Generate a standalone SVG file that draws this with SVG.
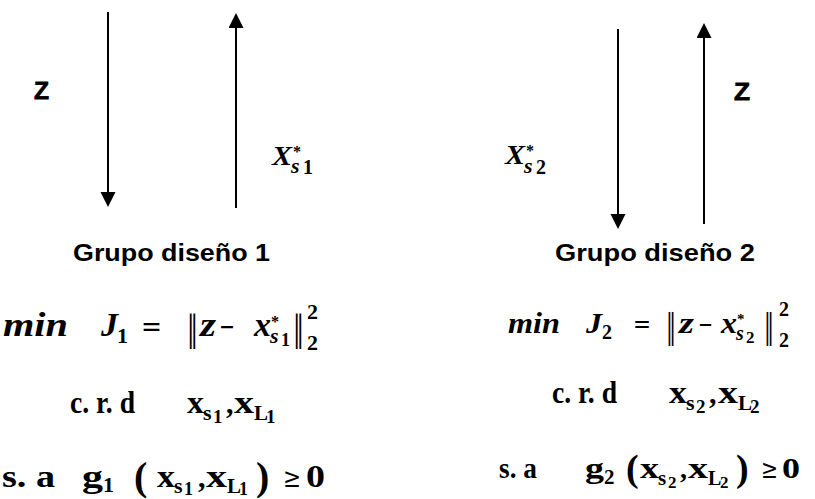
<svg xmlns="http://www.w3.org/2000/svg" width="815" height="499" viewBox="0 0 815 499">
<style>
.sans{font-family:"Liberation Sans",Arial,sans-serif;font-weight:bold;fill:#000}
.zl{stroke:#000;stroke-width:0.8}
.m{font-family:"Liberation Serif","DejaVu Serif",serif;font-weight:bold;fill:#000}
.i{font-style:italic}
.sym{font-family:"DejaVu Serif","Liberation Serif",serif;font-weight:normal;fill:#000}
.arr{stroke:#000;stroke-width:2;fill:none;marker-end:url(#ah)}
</style>
<defs>
<marker id="ah" markerUnits="userSpaceOnUse" markerWidth="16" markerHeight="16" viewBox="0 0 16 16" refX="5" refY="7.5" orient="auto">
<path d="M0,0 L15,7.5 L0,15 Z" fill="#000"/>
</marker>
</defs>
<rect width="815" height="499" fill="#fff"/>

<g id="connectors">
<line class="arr" x1="108" y1="12" x2="108" y2="197"/>
<line class="arr" x1="236" y1="208" x2="236" y2="23"/>
<line class="arr" x1="618" y1="29" x2="618" y2="219"/>
<line class="arr" x1="704" y1="224" x2="704" y2="33"/>
</g>

<g id="label-z-left"><text class="sans zl" x="34" y="99" font-size="24" textLength="15" lengthAdjust="spacingAndGlyphs">Z</text></g>
<g id="label-z-right"><text class="sans zl" x="734" y="100" font-size="24" textLength="16" lengthAdjust="spacingAndGlyphs">Z</text></g>

<g id="label-xs1">
<text class="m i" x="272" y="165" font-size="28" textLength="20" lengthAdjust="spacingAndGlyphs">X</text>
<text class="m" x="293" y="157" font-size="16">*</text>
<text class="m i" x="291" y="173" font-size="22">s</text>
<text class="m" x="303" y="174" font-size="20">1</text>
</g>
<g id="label-xs2">
<text class="m i" x="505" y="164" font-size="28" textLength="20" lengthAdjust="spacingAndGlyphs">X</text>
<text class="m" x="526" y="156" font-size="16">*</text>
<text class="m i" x="524" y="173" font-size="22">s</text>
<text class="m" x="536" y="174" font-size="20">2</text>
</g>

<g id="grupo1">
<text class="sans" x="73" y="261" font-size="23" textLength="197" lengthAdjust="spacingAndGlyphs">Grupo diseño 1</text>
<!-- row 2 -->
<text class="m i" x="3" y="336" font-size="33" textLength="65" lengthAdjust="spacingAndGlyphs">min</text>
<text class="m i" x="101" y="336" font-size="33" textLength="17" lengthAdjust="spacingAndGlyphs">J</text>
<text class="m" x="117" y="343" font-size="22">1</text>
<text class="sym" x="141" y="336" font-size="28" textLength="21" lengthAdjust="spacingAndGlyphs">=</text>
<text class="sym" x="187" y="341" font-size="36" textLength="11" lengthAdjust="spacingAndGlyphs">‖</text>
<text class="m i" x="200" y="336" font-size="33" textLength="16" lengthAdjust="spacingAndGlyphs">z</text>
<text class="sym" x="219" y="336" font-size="28" textLength="16" lengthAdjust="spacingAndGlyphs">−</text>
<text class="m i" x="254" y="336" font-size="33" textLength="17" lengthAdjust="spacingAndGlyphs">x</text>
<text class="m" x="271" y="327" font-size="16">*</text>
<text class="m i" x="270" y="343" font-size="22">s</text>
<text class="m" x="281" y="346" font-size="18">1</text>
<text class="sym" x="293" y="341" font-size="36" textLength="11" lengthAdjust="spacingAndGlyphs">‖</text>
<text class="m" x="307" y="319" font-size="22">2</text>
<text class="m" x="307" y="350" font-size="22">2</text>
<!-- row 3 -->
<text class="m" x="70" y="413" font-size="32" textLength="65" lengthAdjust="spacingAndGlyphs">c. r. d</text>
<text class="m" x="187" y="413" font-size="32" textLength="17" lengthAdjust="spacingAndGlyphs">x</text>
<text class="m" x="203" y="420" font-size="22">s</text>
<text class="m" x="213" y="423" font-size="19">1</text>
<text class="m" x="226" y="413" font-size="30">,</text>
<text class="m" x="234" y="413" font-size="32" textLength="20" lengthAdjust="spacingAndGlyphs">x</text>
<text class="m" x="254" y="420" font-size="21">L</text>
<text class="m" x="266" y="423" font-size="19">1</text>
<!-- row 4 -->
<text class="m" x="2" y="487" font-size="32" textLength="53" lengthAdjust="spacingAndGlyphs">s. a</text>
<text class="m" x="82" y="487" font-size="32" textLength="21" lengthAdjust="spacingAndGlyphs">g</text>
<text class="m" x="103" y="492" font-size="22">1</text>
<text class="m" x="134" y="490" font-size="40" font-weight="normal">(</text>
<text class="m" x="157" y="487" font-size="32" textLength="18" lengthAdjust="spacingAndGlyphs">x</text>
<text class="m" x="174" y="493" font-size="22">s</text>
<text class="m" x="184" y="495" font-size="18">1</text>
<text class="m" x="198" y="487" font-size="30">,</text>
<text class="m" x="206" y="487" font-size="32" textLength="21" lengthAdjust="spacingAndGlyphs">x</text>
<text class="m" x="227" y="493" font-size="21">L</text>
<text class="m" x="239" y="495" font-size="18">1</text>
<text class="m" x="256" y="490" font-size="40" font-weight="normal">)</text>
<text class="sym" x="283" y="487" font-size="27" textLength="18" lengthAdjust="spacingAndGlyphs">≥</text>
<text class="m" x="306" y="487" font-size="32" textLength="19" lengthAdjust="spacingAndGlyphs">0</text>
</g>

<g id="grupo2">
<text class="sans" x="555" y="261" font-size="23" textLength="200" lengthAdjust="spacingAndGlyphs">Grupo diseño 2</text>
<!-- row 2 -->
<text class="m i" x="508" y="333" font-size="30" textLength="52" lengthAdjust="spacingAndGlyphs">min</text>
<text class="m i" x="586" y="333" font-size="30" textLength="16" lengthAdjust="spacingAndGlyphs">J</text>
<text class="m" x="602" y="339" font-size="20">2</text>
<text class="sym" x="633" y="333" font-size="26" textLength="18" lengthAdjust="spacingAndGlyphs">=</text>
<text class="sym" x="666" y="338" font-size="33" textLength="10" lengthAdjust="spacingAndGlyphs">‖</text>
<text class="m i" x="679" y="333" font-size="30" textLength="15" lengthAdjust="spacingAndGlyphs">z</text>
<text class="sym" x="698" y="333" font-size="26" textLength="15" lengthAdjust="spacingAndGlyphs">−</text>
<text class="m i" x="721" y="333" font-size="30" textLength="16" lengthAdjust="spacingAndGlyphs">x</text>
<text class="m" x="737" y="324" font-size="15">*</text>
<text class="m i" x="736" y="340" font-size="20">s</text>
<text class="m" x="746" y="343" font-size="17">2</text>
<text class="sym" x="764" y="338" font-size="33" textLength="10" lengthAdjust="spacingAndGlyphs">‖</text>
<text class="m" x="779" y="316" font-size="20">2</text>
<text class="m" x="779" y="347" font-size="20">2</text>
<!-- row 3 -->
<text class="m" x="552" y="403" font-size="32" textLength="65" lengthAdjust="spacingAndGlyphs">c. r. d</text>
<text class="m" x="669" y="403" font-size="32" textLength="18" lengthAdjust="spacingAndGlyphs">x</text>
<text class="m" x="686" y="410" font-size="22">s</text>
<text class="m" x="696" y="413" font-size="19">2</text>
<text class="m" x="709" y="403" font-size="30">,</text>
<text class="m" x="718" y="403" font-size="32" textLength="20" lengthAdjust="spacingAndGlyphs">x</text>
<text class="m" x="738" y="410" font-size="21">L</text>
<text class="m" x="750" y="413" font-size="19">2</text>
<!-- row 4 -->
<text class="m" x="499" y="478" font-size="30" textLength="38" lengthAdjust="spacingAndGlyphs">s. a</text>
<text class="m" x="585" y="478" font-size="30" textLength="19" lengthAdjust="spacingAndGlyphs">g</text>
<text class="m" x="604" y="484" font-size="21">2</text>
<text class="m" x="626" y="481" font-size="38" font-weight="normal">(</text>
<text class="m" x="640" y="478" font-size="30" textLength="19" lengthAdjust="spacingAndGlyphs">x</text>
<text class="m" x="658" y="485" font-size="21">s</text>
<text class="m" x="668" y="488" font-size="17">2</text>
<text class="m" x="680" y="478" font-size="28">,</text>
<text class="m" x="688" y="478" font-size="30" textLength="20" lengthAdjust="spacingAndGlyphs">x</text>
<text class="m" x="708" y="485" font-size="20">L</text>
<text class="m" x="720" y="488" font-size="17">2</text>
<text class="m" x="736" y="481" font-size="38" font-weight="normal">)</text>
<text class="sym" x="761" y="478" font-size="26" textLength="17" lengthAdjust="spacingAndGlyphs">≥</text>
<text class="m" x="782" y="478" font-size="30" textLength="18" lengthAdjust="spacingAndGlyphs">0</text>
</g>
</svg>
